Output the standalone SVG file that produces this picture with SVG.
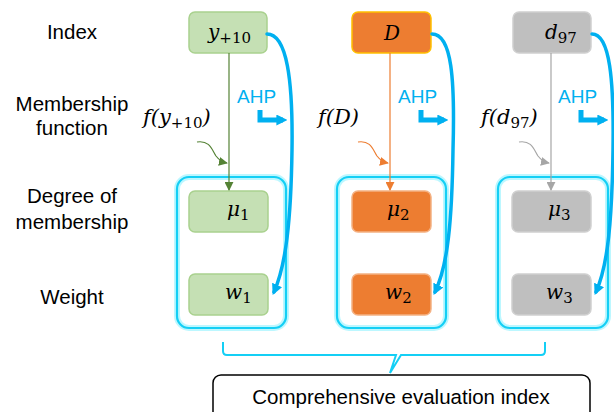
<svg xmlns="http://www.w3.org/2000/svg" width="614" height="412" viewBox="0 0 614 412">
<defs>
<style>
.lbl{font-family:"Liberation Sans",Arial,sans-serif;font-size:20.5px;fill:#000;text-anchor:middle}
.ahp{font-family:"Liberation Sans",Arial,sans-serif;font-size:19px;fill:#00B0F0}
.m{font-family:"DejaVu Serif","Liberation Serif",serif;font-style:italic;font-size:20px;fill:#000}
.f{font-size:21px}
.sub{font-style:normal;font-size:15px}
.g{fill:#C5E0B4;stroke:#A9D18E;stroke-width:1.5}
.o{fill:#ED7D31;stroke:#F4B183;stroke-width:1.5}
.oi{fill:#ED7D31;stroke:#FFC000;stroke-width:1.5}
.gr{fill:#BFBFBF;stroke:#D0D0D0;stroke-width:1.5}
.grp{fill:none;stroke:#14CFF5;stroke-width:2.2}
.glow{fill:none;stroke:#9FF3FF;stroke-width:6;opacity:0.7}
.ahpc{fill:none;stroke:#00B0F0;stroke-width:3.5;stroke-linecap:round}
.lshape{fill:none;stroke:#00B0F0;stroke-width:5}
</style>
<marker id="ag" viewBox="0 0 10 10" refX="9" refY="5" markerWidth="9" markerHeight="9" markerUnits="userSpaceOnUse" orient="auto"><path d="M0,0L10,5L0,10z" fill="#548235"/></marker>
<marker id="ao" viewBox="0 0 10 10" refX="9" refY="5" markerWidth="9" markerHeight="9" markerUnits="userSpaceOnUse" orient="auto"><path d="M0,0L10,5L0,10z" fill="#ED7D31"/></marker>
<marker id="agr" viewBox="0 0 10 10" refX="9" refY="5" markerWidth="9" markerHeight="9" markerUnits="userSpaceOnUse" orient="auto"><path d="M0,0L10,5L0,10z" fill="#A6A6A6"/></marker>
<marker id="ab" viewBox="0 0 10 10" refX="7" refY="5" markerWidth="11" markerHeight="11" markerUnits="userSpaceOnUse" orient="auto"><path d="M0,0L10,5L0,10z" fill="#00B0F0"/></marker>
<marker id="ab2" viewBox="0 0 10 10" refX="6" refY="5" markerWidth="11" markerHeight="11" markerUnits="userSpaceOnUse" orient="auto"><path d="M0,0L10,5L0,10z" fill="#00B0F0"/></marker>
</defs>

<g id="row-labels">
<text class="lbl" x="72" y="39">Index</text>
<text class="lbl" x="72" y="111">Membership</text>
<text class="lbl" x="72" y="135">function</text>
<text class="lbl" x="72" y="203">Degree of</text>
<text class="lbl" x="72" y="229">membership</text>
<text class="lbl" x="72" y="304">Weight</text>
</g>

<g id="group1">
<rect class="glow" x="177" y="177" width="109" height="151" rx="12"/>
<rect class="grp" x="177" y="177" width="109" height="151" rx="12"/>
</g>
<g id="group2">
<rect class="glow" x="337" y="177" width="109" height="151" rx="12"/>
<rect class="grp" x="337" y="177" width="109" height="151" rx="12"/>
</g>
<g id="group3">
<rect class="glow" x="498" y="177" width="110" height="151" rx="12"/>
<rect class="grp" x="498" y="177" width="110" height="151" rx="12"/>
</g>

<g id="idx1"><rect class="g" x="189" y="12" width="78" height="41" rx="6"/><text class="m" x="208" y="39">y<tspan class="sub" dy="4">+10</tspan></text></g>
<g id="idx2"><rect class="oi" x="352" y="12" width="79" height="41" rx="6"/><text class="m" x="384" y="40">D</text></g>
<g id="idx3"><rect class="gr" x="513" y="12" width="78" height="41" rx="6"/><text class="m" x="545" y="39">d<tspan class="sub" dy="4">97</tspan></text></g>

<g id="mu1"><rect class="g" x="189" y="191" width="79" height="41" rx="6"/><text class="m" x="227" y="216">μ<tspan class="sub" dy="4">1</tspan></text></g>
<g id="mu2"><rect class="o" x="352" y="191" width="79" height="41" rx="6"/><text class="m" x="387" y="216">μ<tspan class="sub" dy="4">2</tspan></text></g>
<g id="mu3"><rect class="gr" x="512" y="191" width="79" height="41" rx="6"/><text class="m" x="548" y="216">μ<tspan class="sub" dy="4">3</tspan></text></g>

<g id="w1"><rect class="g" x="189" y="274" width="79" height="41" rx="6"/><text class="m" x="225" y="299">w<tspan class="sub" dy="4">1</tspan></text></g>
<g id="w2"><rect class="o" x="352" y="274" width="79" height="41" rx="6"/><text class="m" x="385" y="299">w<tspan class="sub" dy="4">2</tspan></text></g>
<g id="w3"><rect class="gr" x="512" y="274" width="79" height="41" rx="6"/><text class="m" x="546" y="299">w<tspan class="sub" dy="4">3</tspan></text></g>

<g id="func-labels">
<text class="m f" x="143" y="124">f(y<tspan class="sub" dy="4">+10</tspan><tspan dy="-4">)</tspan></text>
<text class="m f" x="318" y="124">f(D)</text>
<text class="m f" x="481" y="124">f(d<tspan class="sub" dy="4">97</tspan><tspan dy="-4">)</tspan></text>
<text class="ahp" x="237" y="103">AHP</text>
<text class="ahp" x="398" y="103">AHP</text>
<text class="ahp" x="558" y="103">AHP</text>
</g>

<g id="connectors">
<line x1="229" y1="53" x2="229" y2="190" stroke="#548235" stroke-width="1.2" marker-end="url(#ag)"/>
<line x1="390" y1="53" x2="390" y2="190" stroke="#ED7D31" stroke-width="1.2" marker-end="url(#ao)"/>
<line x1="551" y1="53" x2="551" y2="190" stroke="#A6A6A6" stroke-width="1.2" marker-end="url(#agr)"/>

<path d="M197,142 C210,140 212,150 216,156 C219,160 222,162 227,163" fill="none" stroke="#548235" stroke-width="1.2" marker-end="url(#ag)"/>
<path d="M358,142 C371,140 373,150 377,156 C380,160 383,162 388,163" fill="none" stroke="#ED7D31" stroke-width="1.2" marker-end="url(#ao)"/>
<path d="M519,142 C532,140 534,150 538,156 C541,160 544,162 549,163" fill="none" stroke="#A6A6A6" stroke-width="1.2" marker-end="url(#agr)"/>

<path class="lshape" d="M260,110 L260,120 L283,120" marker-end="url(#ab2)"/>
<path class="lshape" d="M421,110 L421,120 L444,120" marker-end="url(#ab2)"/>
<path class="lshape" d="M581,110 L581,120 L604,120" marker-end="url(#ab2)"/>

<path class="ahpc" d="M267,34 C287,34 293,80 292,150 C291,220 286,265 274,292" marker-end="url(#ab)"/>
<path class="ahpc" d="M432,34 C452,34 455,80 453,150 C452,220 448,265 435,292" marker-end="url(#ab)"/>
<path class="ahpc" d="M592,34 C610,34 614,80 613,150 C612,220 608,265 596,292" marker-end="url(#ab)"/>

<path d="M223,342 L223,351 Q223,355 227,355 L396,355 L390,373 L401,355 L541,355 Q545,355 545,351 L545,342" fill="none" stroke="#14CFF5" stroke-width="2"/>
</g>

<g id="result">
<rect x="213" y="375" width="377" height="50" rx="8" fill="#fff" stroke="#000" stroke-width="1.5"/>
<text class="lbl" x="401" y="404">Comprehensive evaluation index</text>
</g>
</svg>
